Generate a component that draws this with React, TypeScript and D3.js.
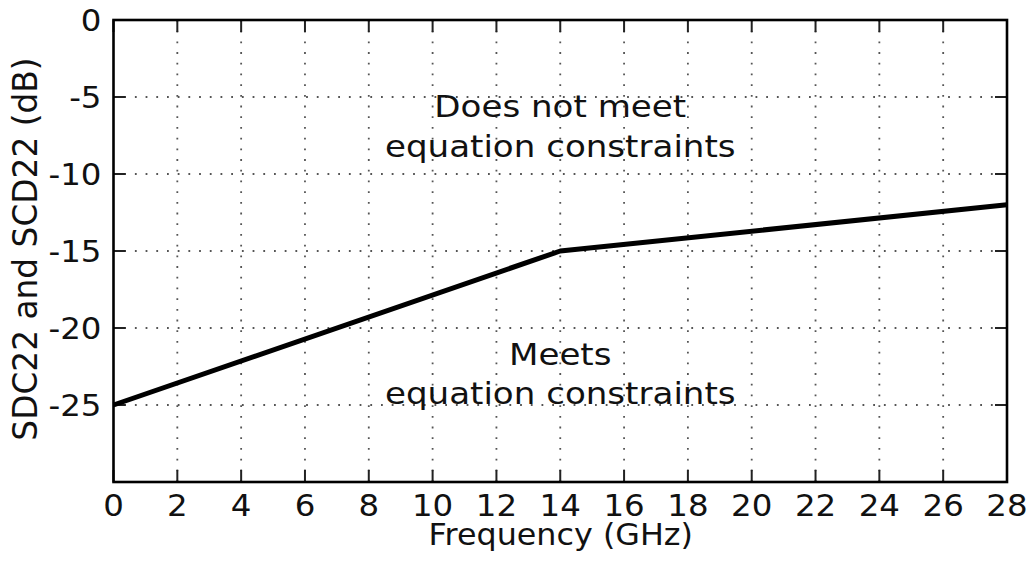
import React, { useRef, useEffect } from 'react';
import * as d3 from 'd3';

// line breakpoints (GHz, dB)
const freq = [0, 14, 28];
const limit = [-25, -15, -12];

const xTicks = [0, 2, 4, 6, 8, 10, 12, 14, 16, 18, 20, 22, 24, 26, 28];
const yTicks = [0, -5, -10, -15, -20, -25];

const upperText = ['Does not meet', 'equation constraints'];
const lowerText = ['Meets', 'equation constraints'];

const FONT = '"DejaVu Sans", sans-serif';

function App() {
  const svgRef = useRef(null);

  useEffect(() => {
    const w = 1034;
    const h = 566;
    const m = { left: 113.5, right: 1007, top: 20, bottom: 482 };
    const svg = d3.select(svgRef.current);
    svg.selectAll('*').remove();

    const x = d3.scaleLinear().domain([0, 28]).range([m.left, m.right]);
    const y = d3.scaleLinear().domain([-30, 0]).range([m.bottom, m.top]);

    svg.append('rect').attr('width', w).attr('height', h).attr('fill', 'white');

    // dotted grid
    const grid = svg.append('g')
      .attr('stroke', '#555')
      .attr('stroke-width', 1.8)
      .attr('stroke-dasharray', '1.8,8.9');
    grid.selectAll('.gx')
      .data(xTicks.slice(1, -1))
      .join('line')
      .attr('x1', d => x(d)).attr('x2', d => x(d))
      .attr('y1', m.top).attr('y2', m.bottom);
    grid.selectAll('.gy')
      .data(yTicks.slice(1))
      .join('line')
      .attr('y1', d => y(d)).attr('y2', d => y(d))
      .attr('x1', m.left).attr('x2', m.right);

    // inward ticks on every side
    const tl = 12;
    const ticks = svg.append('g').attr('stroke', '#222').attr('stroke-width', 2);
    xTicks.forEach(t => {
      ticks.append('line').attr('x1', x(t)).attr('x2', x(t)).attr('y1', m.bottom).attr('y2', m.bottom - tl);
      ticks.append('line').attr('x1', x(t)).attr('x2', x(t)).attr('y1', m.top).attr('y2', m.top + tl);
    });
    yTicks.forEach(t => {
      ticks.append('line').attr('y1', y(t)).attr('y2', y(t)).attr('x1', m.left).attr('x2', m.left + tl);
      ticks.append('line').attr('y1', y(t)).attr('y2', y(t)).attr('x1', m.right).attr('x2', m.right - tl);
    });

    // constraint line
    const line = d3.line<number>()
      .x((d, i) => x(freq[i]))
      .y((d, i) => y(d));
    svg.append('path')
      .attr('d', line(limit))
      .attr('fill', 'none')
      .attr('stroke', 'black')
      .attr('stroke-width', 5)
      .attr('stroke-linejoin', 'round');

    // frame
    svg.append('rect')
      .attr('x', m.left).attr('y', m.top)
      .attr('width', m.right - m.left).attr('height', m.bottom - m.top)
      .attr('fill', 'none').attr('stroke', 'black').attr('stroke-width', 2.6);

    // the reference glyphs are a bit wider than tall, so stretch text horizontally
    const txt = svg.append('g').attr('font-family', FONT).attr('fill', '#111');

    txt.selectAll('.xl')
      .data(xTicks)
      .join('text')
      .attr('transform', d => `translate(${x(d)},515.5) scale(1.1,1)`)
      .attr('text-anchor', 'middle')
      .attr('font-size', 29.5)
      .text(d => String(d));

    txt.selectAll('.yl')
      .data(yTicks)
      .join('text')
      .attr('transform', d => `translate(101.5,${y(d)}) scale(1.1,1)`)
      .attr('dy', '0.36em')
      .attr('text-anchor', 'end')
      .attr('font-size', 29.5)
      .text(d => String(d));

    txt.append('text')
      .attr('transform', `translate(${(m.left + m.right) / 2 + 0.5},545) scale(1.06,1)`)
      .attr('text-anchor', 'middle')
      .attr('font-size', 30)
      .text('Frequency (GHz)');

    txt.append('text')
      .attr('transform', `translate(37, 249) rotate(-90)`)
      .attr('text-anchor', 'middle')
      .attr('font-size', 32.8)
      .text('SDC22 and SCD22 (dB)');

    upperText.forEach((s, i) => {
      txt.append('text')
        .attr('transform', `translate(${x(14)},${117 + i * 40}) scale(1.1,1)`)
        .attr('text-anchor', 'middle')
        .attr('font-size', 31)
        .text(s);
    });
    lowerText.forEach((s, i) => {
      txt.append('text')
        .attr('transform', `translate(${x(14)},${365 + i * 39}) scale(1.1,1)`)
        .attr('text-anchor', 'middle')
        .attr('font-size', 31)
        .text(s);
    });
  }, []);

  return (
    <svg ref={svgRef} width={1034} height={566}
      style={{ position: 'absolute', left: 0, top: 0, display: 'block' }} />
  );
}

export default App;
